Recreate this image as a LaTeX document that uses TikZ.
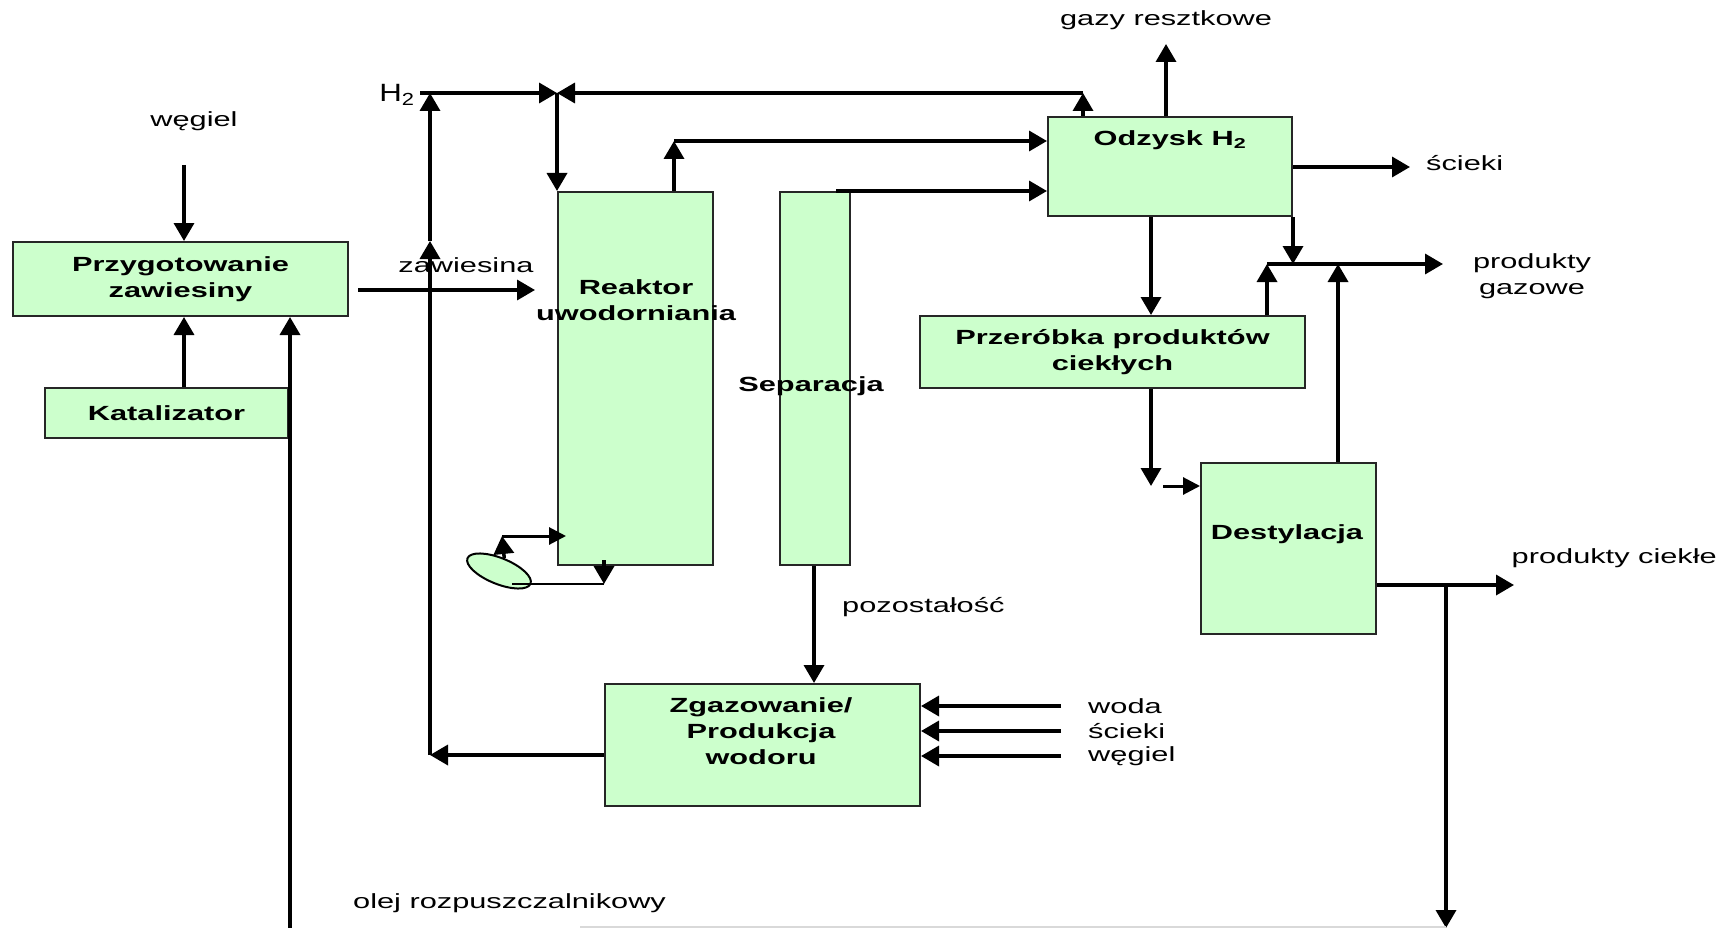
\documentclass[tikz,border=0pt]{standalone}
\usepackage{fontspec}
\setmainfont[FakeStretch=1.5]{Liberation Sans}
\newfontfamily\narrowsans[FakeStretch=1.25]{Liberation Sans}
\usetikzlibrary{arrows.meta,shapes.geometric}
\definecolor{boxgreen}{HTML}{CCFFCC}

\tikzset{
  box/.style={draw=black!85, line width=2pt, fill=boxgreen, inner sep=0pt,
    align=center, font=\fontsize{20.5}{26}\selectfont\bfseries},
  flow/.style={line width=3.5pt, -{Triangle[length=18pt,width=20pt]}},
  smallflow/.style={line width=3pt, -{Triangle[length=17pt,width=17pt]}},
  pipe/.style={line width=2.5pt},
  lbl/.style={inner sep=0pt, align=center, font=\fontsize{20.5}{26}\selectfont},
  blbl/.style={inner sep=0pt, align=center, font=\fontsize{20.5}{26}\selectfont\bfseries},
}

\begin{document}
\begin{tikzpicture}[x=1pt,y=-1pt]
\useasboundingbox (0,0) rectangle (1720,928);

% process units
\node[box, anchor=north west, minimum width=335pt, minimum height=74pt] (prep) at (12,241) {Przygotowanie\\zawiesiny};
\node[box, anchor=north west, minimum width=243pt, minimum height=50pt] (kat) at (44,387) {Katalizator};
\node[box, anchor=north west, minimum width=155pt, minimum height=373pt] (reac) at (557,191) {};
\node[blbl] (reacl) at (636,300) {Reaktor\\uwodorniania};
\node[box, anchor=north west, minimum width=70pt, minimum height=373pt] (sep) at (779,191) {};
\node[blbl] (sepl) at (811,386) {Separacja};
\node[box, anchor=north west, minimum width=244pt, minimum height=99pt] (odz) at (1047,116) {};
\node[blbl] (odzl) at (1170,140) {Odzysk H\textsubscript{2}};
\node[box, anchor=north west, minimum width=385pt, minimum height=72pt] (prz) at (919,315) {Przeróbka produktów\\ciekłych};
\node[box, anchor=north west, minimum width=175pt, minimum height=171pt] (dest) at (1200,462) {};
\node[blbl] (destl) at (1287,534) {Destylacja};
\node[box, anchor=north west, minimum width=315pt, minimum height=122pt] (zg) at (604,683) {};
\node[blbl] (zgl) at (761,731) {Zgazowanie/\\Produkcja\\wodoru};
\node[draw=black, line width=2pt, fill=boxgreen, ellipse, rotate=-22,
      minimum width=68pt, minimum height=26pt, inner sep=0pt] (pump) at (499,571) {};

% stream labels
\node[lbl] (coal) at (194,121) {węgiel};
\node[lbl] (slurry) at (466,265) {zawiesina};
\node[inner sep=0pt, font=\narrowsans\fontsize{25}{30}\selectfont] (h2) at (397,95) {H\textsubscript{2}};
\node[lbl] (tail) at (1166,20) {gazy resztkowe};
\node[lbl, anchor=west] (ww1) at (1426,163) {ścieki};
\node[lbl] (gasp) at (1532,276) {produkty\\gazowe};
\node[lbl, anchor=east] (liqp) at (1717,558) {produkty ciekłe};
\node[lbl, anchor=west] (res) at (842,607) {pozostałość};
\node[lbl, anchor=west] (water) at (1088,706) {woda};
\node[lbl, anchor=west] (ww2) at (1088,731) {ścieki};
\node[lbl, anchor=west] (coal2) at (1088,756) {węgiel};
\node[lbl, anchor=west] (oil) at (353,903) {olej rozpuszczalnikowy};

% junction points and free ends
\coordinate (coaltop) at (184,165);
\coordinate (slin) at (358,290);
\coordinate (slout) at (535,290);
\coordinate (hlow) at (430,755);
\coordinate (hmid) at (430,241);
\coordinate (htop) at (430,93);
\coordinate (hstart) at (420,93);
\coordinate (hjoin) at (557,93);
\coordinate (hback) at (1083,93);
\coordinate (rout) at (674,141);
\coordinate (tailend) at (1166,44);
\coordinate (wwend) at (1410,167);
\coordinate (gstart) at (1267,264);
\coordinate (gend) at (1443,264);
\coordinate (pdown) at (1151,486);
\coordinate (dfeed) at (1163,486);
\coordinate (lend) at (1514,585);
\coordinate (lsplit) at (1446,585);
\coordinate (lbottom) at (1446,928);
\coordinate (oilbottom) at (290,928);
\coordinate (rloop) at (502,536);
\coordinate (rbot) at (604,584);
\coordinate (pumpend) at (512,584);

% feed side
\draw[flow] (coaltop) -- (coaltop |- prep.north);
\draw[flow] (184,0 |- kat.north) -- (184,0 |- prep.south);
\draw[flow] (oilbottom) -- (oilbottom |- prep.south);
\draw[flow] (slin) -- (slout);

% hydrogen loop
\draw[flow] (zg.west |- hlow) -- (hlow);
\draw[flow] (hlow) -- (hmid);
\draw[flow] (hmid) -- (htop);
\draw[flow] (hstart) -- (hjoin);
\draw[flow] (hback) -- (hjoin);
\draw[flow] (hjoin) -- (reac.north west);
\draw[flow] (hback |- odz.north) -- (hback);

% reactor and separator outlets
\draw[flow] (rout |- reac.north) -- (rout);
\draw[flow] (rout) -- (rout -| odz.west);
\draw[flow] (836,0 |- sep.north) -- (odz.west |- sep.north);
\draw[flow] (814,0 |- sep.south) -- (814,0 |- zg.north);

% reactor recycle loop
\draw[flow] (pump.north) -- (rloop);
\draw[smallflow] (rloop) -- (566,536);
\draw[flow] (rbot |- reac.south) ++(0,-6) -- (rbot);
\draw[pipe] (rbot) -- (pumpend);

% hydrogen recovery outlets
\draw[flow] (tailend |- odz.north) -- (tailend);
\draw[flow] (odz.east |- wwend) -- (wwend);
\draw[flow] (1151,0 |- odz.south) -- (1151,0 |- prz.north);
\draw[flow] (odz.south east) -- (odz.south east |- gstart);
\draw[flow] (gstart) -- (gend);
\draw[flow] (gstart |- prz.north) -- (gstart);
\draw[flow] (1338,0 |- dest.north) -- (1338,0 |- gstart);

% liquid products
\draw[flow] (pdown |- prz.south) -- (pdown);
\draw[smallflow] (dfeed) -- (dfeed -| dest.west);
\draw[flow] (dest.east |- lend) -- (lend);
\draw[flow] (lsplit) -- (lbottom);
\draw[black!15, line width=1.5pt] (580,927) -- (1446,927);

% gasifier feeds
\draw[flow] (water.west) ++(-27,0) -- (zg.east |- water);
\draw[flow] (ww2.west) ++(-27,0) -- (zg.east |- ww2);
\draw[flow] (coal2.west) ++(-27,0) -- (zg.east |- coal2);
\end{tikzpicture}
\end{document}
